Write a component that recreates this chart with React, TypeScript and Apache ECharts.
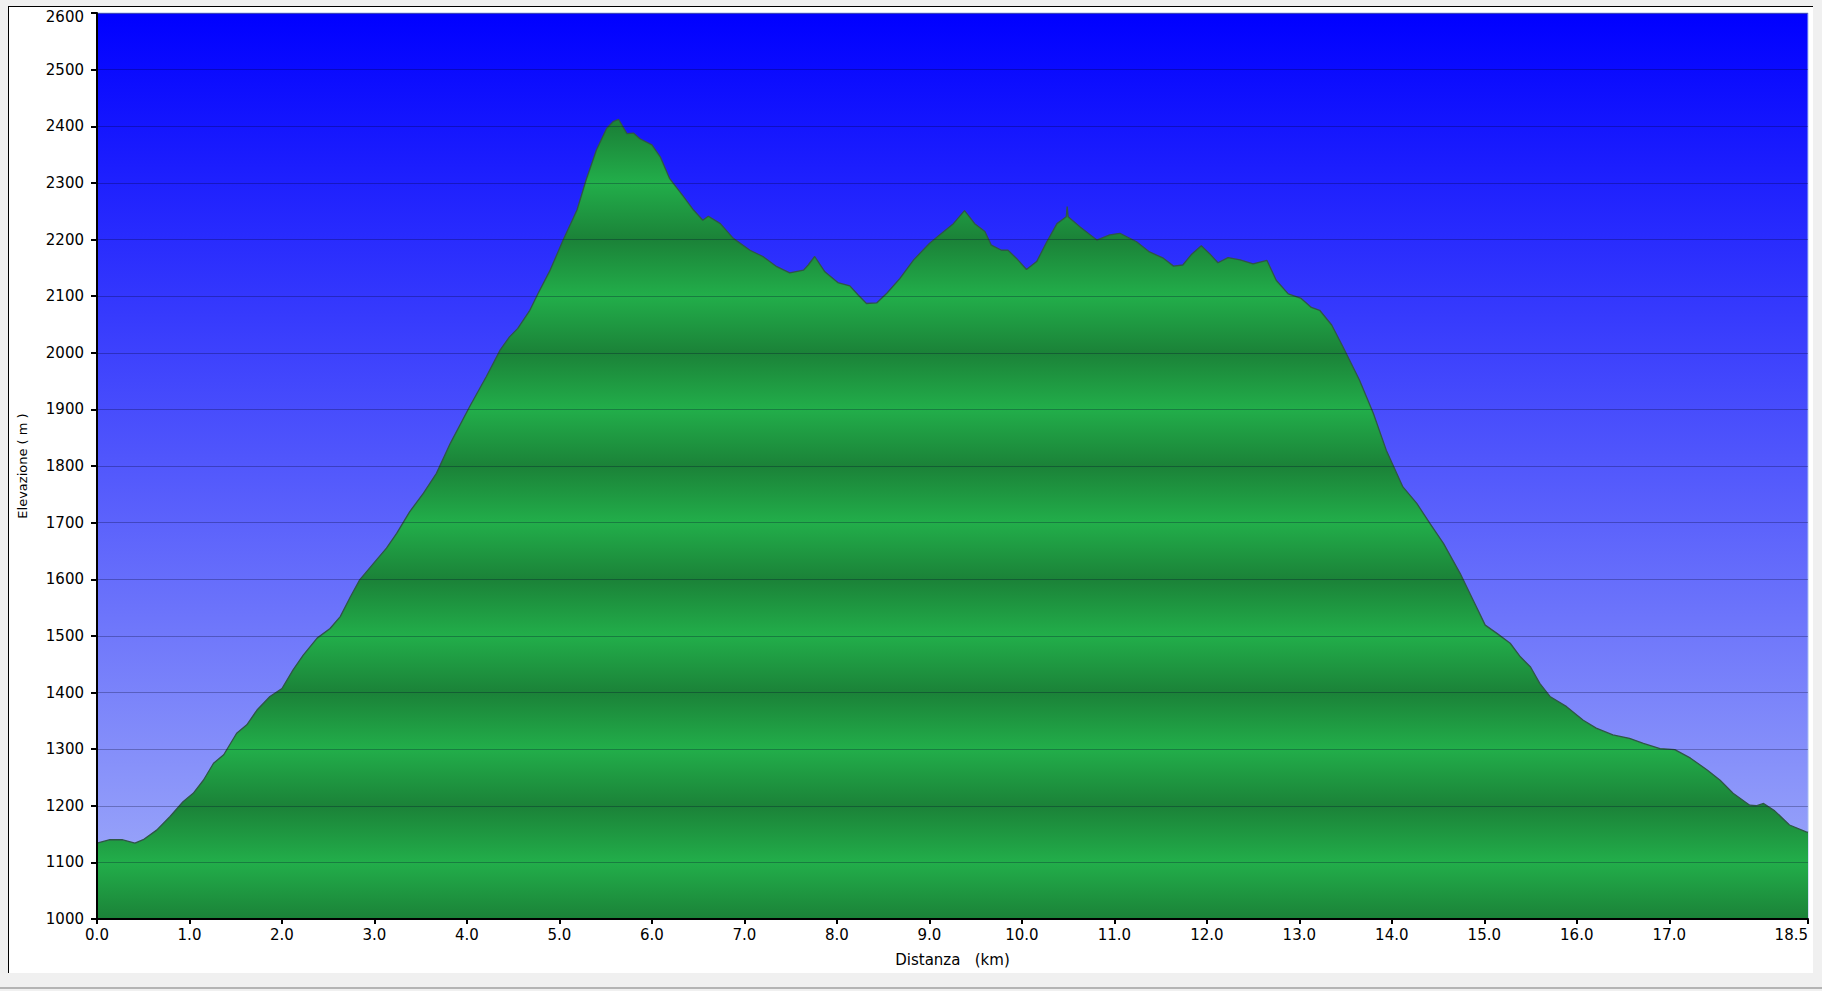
import { useEffect, useRef } from "react";
import * as echarts from "echarts";

// profilo altimetrico: distanza (km) ed elevazione (m)
const distanceKm = [
  0, 0.14, 0.27, 0.41, 0.5, 0.645, 0.79, 0.93, 1.04, 1.15, 1.26, 1.37, 1.51, 1.62, 1.73, 1.87,
  2.0, 2.12, 2.23, 2.38, 2.52, 2.63, 2.74, 2.84, 2.99, 3.13, 3.24, 3.38, 3.53, 3.67, 3.82,
  4.03, 4.21, 4.36, 4.46, 4.55, 4.68, 4.77, 4.9, 5.04, 5.19, 5.29, 5.4, 5.51, 5.58, 5.64,
  5.73, 5.8, 5.87, 6.0, 6.09, 6.19, 6.34, 6.45, 6.55, 6.61, 6.74, 6.88, 7.06, 7.2, 7.35,
  7.49, 7.64, 7.69, 7.76, 7.87, 8.01, 8.14, 8.23, 8.32, 8.43, 8.54, 8.68, 8.83, 9.0, 9.11,
  9.26, 9.38, 9.49, 9.6, 9.67, 9.78, 9.85, 9.94, 10.05, 10.16, 10.27, 10.38, 10.48, 10.49,
  10.5, 10.63, 10.81, 10.95, 11.06, 11.24, 11.38, 11.53, 11.64, 11.74, 11.83, 11.94, 12.03,
  12.12, 12.23, 12.36, 12.5, 12.65, 12.75, 12.88, 13.02, 13.13, 13.22, 13.35, 13.47, 13.65,
  13.8, 13.94, 14.12, 14.27, 14.41, 14.56, 14.74, 14.88, 15.01, 15.14, 15.28, 15.39, 15.5,
  15.6, 15.71, 15.89, 16.07, 16.21, 16.39, 16.57, 16.72, 16.9, 17.06, 17.23, 17.41, 17.55,
  17.69, 17.87, 17.94, 18.02, 18.14, 18.3, 18.48, 18.5,
];

const elevationM = [
  1134, 1140, 1140, 1134, 1140, 1157, 1181, 1207, 1222, 1245, 1275, 1290, 1328, 1343, 1369, 1393,
  1407, 1440, 1466, 1496, 1513, 1534, 1569, 1599, 1628, 1655, 1681, 1719, 1752, 1787, 1840,
  1905, 1958, 2005, 2028, 2043, 2075, 2105, 2146, 2199, 2252, 2306, 2358, 2396, 2408, 2412,
  2387, 2388, 2378, 2367, 2346, 2308, 2276, 2252, 2234, 2241, 2228, 2202, 2181, 2170, 2152,
  2141, 2146, 2155, 2170, 2143, 2124, 2118, 2102, 2087, 2088, 2105, 2131, 2164, 2193, 2208,
  2228, 2251, 2228, 2214, 2190, 2181, 2181, 2167, 2147, 2161, 2196, 2228, 2240, 2258,
  2240, 2222, 2199, 2208, 2211, 2196, 2178, 2167, 2153, 2155, 2173, 2189, 2175,
  2159, 2168, 2164, 2157, 2163, 2128, 2104, 2096, 2080, 2075, 2049, 2011, 1952,
  1893, 1828, 1763, 1734, 1699, 1663, 1610, 1563, 1519, 1504, 1487, 1463, 1445,
  1416, 1393, 1375, 1351, 1337, 1325, 1319, 1310, 1301, 1299, 1284, 1263, 1245,
  1222, 1201, 1200, 1204, 1191, 1166, 1154, 1153,
];

const xTickValues = [0, 1, 2, 3, 4, 5, 6, 7, 8, 9, 10, 11, 12, 13, 14, 15, 16, 17, 18.5];
const yMin = 1000;
const yMax = 2600;
const yStep = 100;

// quote delle bande del riempimento verde (scure sui pari, chiare sui dispari)
const bandLevels = [
  2600, 2500, 2400, 2300, 2200, 2100, 2000, 1900, 1800, 1700, 1600, 1500, 1400, 1300, 1200, 1100, 1000,
];

const FONT = "DejaVu Sans";

function ProfiloAltimetrico() {
  const chartRef = useRef<HTMLDivElement>(null);

  useEffect(() => {
    const chart = echarts.init(chartRef.current, null, { renderer: "svg" });

    const gridTop = 13;
    const gridHeight = 906;

    const greenStops = bandLevels.map((e) => ({
      offset: (yMax - e) / (yMax - yMin),
      color: e % 200 === 0 ? "#1b8238" : "#22ae4a",
    }));

    const option = {
      animation: false,
      textStyle: { fontFamily: FONT },
      grid: {
        left: 97,
        top: gridTop,
        width: 1711,
        height: gridHeight,
        show: true,
        borderWidth: 1,
        borderColor: "#a9bdf2",
        backgroundColor: new echarts.graphic.LinearGradient(0, 0, 0, 1, [
          { offset: 0, color: "#0000ff" },
          { offset: 1, color: "#a3aff9" },
        ]),
      },
      xAxis: {
        type: "value",
        min: 0,
        max: 18.5,
        z: 5,
        name: "Distanza   (km)",
        nameLocation: "middle",
        nameGap: 33,
        nameTextStyle: { color: "#000", fontSize: 15, fontFamily: FONT },
        axisLine: { show: true, onZero: false, lineStyle: { color: "#000", width: 2 } },
        axisTick: {
          show: true,
          length: 5,
          customValues: xTickValues,
          lineStyle: { color: "#000", width: 2 },
        },
        axisLabel: {
          color: "#000",
          fontSize: 15,
          fontFamily: FONT,
          margin: 8,
          customValues: xTickValues,
          alignMaxLabel: "right",
          formatter: (v: number) => v.toFixed(1),
        },
        splitLine: { show: false },
      },
      yAxis: {
        type: "value",
        min: yMin,
        max: yMax,
        interval: yStep,
        z: 5,
        name: "Elevazione ( m )",
        nameLocation: "middle",
        nameGap: 68,
        nameTextStyle: { color: "#000", fontSize: 13, fontFamily: FONT },
        axisLine: { show: true, lineStyle: { color: "#000", width: 2 } },
        axisTick: { show: true, length: 6, lineStyle: { color: "#000", width: 2 } },
        axisLabel: {
          color: "#000",
          fontSize: 15,
          fontFamily: FONT,
          margin: 13,
          // l'etichetta in cima scende un poco sotto la tacca
          formatter: (v: number) => (v === yMax ? "{top|" + v + "}" : String(v)),
          rich: {
            top: { color: "#000", fontSize: 15, fontFamily: FONT, padding: [8, 0, 0, 0] },
          },
        },
        splitLine: { show: true, lineStyle: { color: "rgba(0,0,40,0.28)", width: 1 } },
      },
      series: [
        {
          name: "Elevazione",
          type: "line",
          data: distanceKm.map((d, i) => [d, elevationM[i]]),
          symbol: "none",
          smooth: false,
          z: 2,
          lineStyle: { color: "#2f5646", width: 1.3 },
          areaStyle: {
            origin: "start",
            opacity: 1,
            color: new echarts.graphic.LinearGradient(0, gridTop, 0, gridTop + gridHeight, greenStops, true),
          },
        },
      ],
    };

    chart.setOption(option);

    return () => {
      chart.dispose();
    };
  }, []);

  return (
    <div
      style={{
        position: "fixed",
        left: 0,
        top: 0,
        width: 1822,
        height: 991,
        background: "#f0f0f0",
        overflow: "hidden",
      }}
    >
      <div
        style={{
          position: "absolute",
          left: 8,
          top: 6,
          width: 1805,
          height: 967,
          background: "#fff",
          borderLeft: "1.5px solid #000",
          borderTop: "1.5px solid #000",
          boxSizing: "border-box",
        }}
      />
      <div
        style={{
          position: "absolute",
          left: 0,
          top: 987,
          width: 1822,
          height: 2,
          background: "#b4b4b4",
        }}
      />
      <div
        ref={chartRef}
        style={{ position: "absolute", left: 0, top: 0, width: 1822, height: 991 }}
      />
    </div>
  );
}

export default function App() {
  return <ProfiloAltimetrico />;
}
